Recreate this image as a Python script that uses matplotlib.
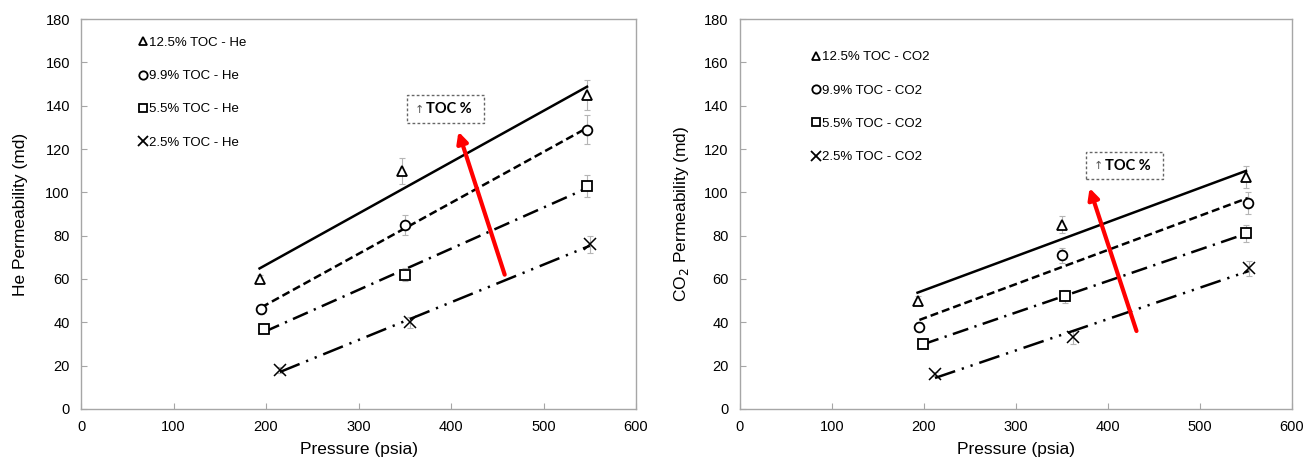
import numpy as np
import matplotlib
matplotlib.use("Agg")
import matplotlib.pyplot as plt
from matplotlib.lines import Line2D
from matplotlib.patches import Rectangle

plt.rcParams["font.family"] = ["Liberation Sans", "DejaVu Sans"]

# ---- data -------------------------------------------------------------
toc_labels = ["12.5% TOC", "9.9% TOC", "5.5% TOC", "2.5% TOC"]

# Helium permeability (md) vs pressure (psia)
he_p = [[193, 347, 547], [195, 350, 547], [198, 350, 547], [215, 356, 550]]
he_k = [[60, 110, 145], [46, 85, 129], [37, 62, 103], [18, 40, 76]]
he_err = [[2, 6, 7], [2, 4.5, 6.5], [2, 3, 5], [1.5, 2.5, 4]]

# CO2 permeability (md) vs pressure (psia)
co2_p = [[193, 350, 550], [195, 350, 552], [199, 353, 550], [212, 362, 553]]
co2_k = [[50, 85, 107], [38, 71, 95], [30, 52, 81], [16, 33, 65]]
co2_err = [[2, 4, 5], [2, 3.5, 5], [1.5, 3, 4], [1, 3, 3.5]]

x_ticks = [0, 100, 200, 300, 400, 500, 600]
y_ticks = [0, 20, 40, 60, 80, 100, 120, 140, 160, 180]

# ---- styling ----------------------------------------------------------
markers = ["^", "o", "s", "x"]
dashes = [None, (3.2, 1.6), (6.5, 2.6, 0.9, 2.6), (8.5, 2.8, 0.9, 2.8, 0.9, 2.8)]
spine_col = "#a6a6a6"


def panel(ax, p_sets, k_sets, e_sets, gas, ylabel, arrow_tail, arrow_head,
          box, leg_anchor):
    for i in range(len(p_sets)):
        p = np.asarray(p_sets[i], float)
        k = np.asarray(k_sets[i], float)
        e = np.asarray(e_sets[i], float)
        # least-squares trend line across the measured pressure range
        slope, icpt = np.polyfit(p, k, 1)
        xs = np.array([p.min(), p.max()])
        ln, = ax.plot(xs, slope * xs + icpt, color="black", lw=1.8, zorder=3)
        if dashes[i] is not None:
            ln.set_dashes(dashes[i])
        ax.errorbar(p, k, yerr=e, fmt="none", ecolor="#b5b5b5",
                    elinewidth=0.8, capsize=2, capthick=0.8, zorder=2)
        is_x = markers[i] == "x"
        ax.plot(p, k, linestyle="none", marker=markers[i], ms=8 if is_x else 7,
                mfc="black" if is_x else "white",
                mec="black", mew=1.1 if is_x else 1.3, zorder=4)

    handles = [Line2D([], [], linestyle="none", marker=m, ms=6 if m != "x" else 6.5,
                      mfc="white", mec="black", mew=1.3) for m in markers]
    ax.legend(handles, [f"{t} - {gas}" for t in toc_labels],
              loc="upper left", bbox_to_anchor=leg_anchor, frameon=False,
              fontsize=9.5, handlelength=0.6, handletextpad=0.15,
              labelspacing=1.6, borderpad=0, borderaxespad=0)

    ax.annotate("", xy=arrow_head, xytext=arrow_tail,
                arrowprops=dict(arrowstyle="-|>", color="red", lw=3,
                                mutation_scale=16, shrinkA=0, shrinkB=0),
                zorder=5)

    # dashed frame holding a small grey up-arrow and the bold "TOC %" label
    x0, x1, y0, y1 = box
    ax.add_patch(Rectangle((x0, y0), x1 - x0, y1 - y0, fc="white",
                           ec="#666666", lw=1.0, ls=(0, (2, 1.6)), zorder=5))
    yc = 0.5 * (y0 + y1)
    w = x1 - x0
    ax.text(x0 + 0.16 * w, yc - 0.3, "\u2191", fontsize=8, color="#555555",
            ha="center", va="center", family=["DejaVu Sans"], zorder=6)
    ax.text(x0 + 0.25 * w, yc, "TOC %", fontsize=10.5, fontweight="bold",
            ha="left", va="center", family=["Lato", "DejaVu Sans"], zorder=6)

    ax.set_xlim(0, 600)
    ax.set_ylim(0, 180)
    ax.set_xticks(x_ticks)
    ax.set_yticks(y_ticks)
    ax.tick_params(direction="in", length=4, color=spine_col,
                   labelsize=10.5, pad=8)
    for s in ax.spines.values():
        s.set_color(spine_col)
        s.set_linewidth(1.0)
    ax.set_xlabel("Pressure (psia)", fontsize=12.5)
    ax.set_ylabel(ylabel, fontsize=12.5)
    ax.xaxis.set_label_coords(0.5, -0.085)


fig = plt.figure(figsize=(13.09, 4.58), dpi=100)
ax1 = fig.add_axes([0.0619, 0.107, 0.424, 0.8515])
ax2 = fig.add_axes([0.5653, 0.107, 0.4217, 0.8515])

panel(ax1, he_p, he_k, he_err, "He", "He Permeability (md)",
      arrow_tail=(458, 62), arrow_head=(408, 128), box=(352, 436, 132, 145),
      leg_anchor=(0.104, 0.955))
ax1.yaxis.set_label_coords(-0.095, 0.5)

panel(ax2, co2_p, co2_k, co2_err, "CO2", "CO$_2$ Permeability (md)",
      arrow_tail=(431, 36), arrow_head=(380, 102), box=(376, 460, 106, 118.6),
      leg_anchor=(0.131, 0.918))
ax2.yaxis.set_label_coords(-0.088, 0.5)

fig.savefig("out.png", dpi=100, facecolor="white")
